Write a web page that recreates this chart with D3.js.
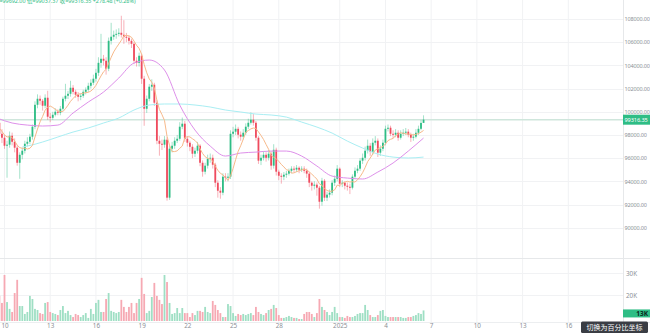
<!DOCTYPE html>
<html><head><meta charset="utf-8">
<script src="https://cdn.jsdelivr.net/npm/d3@7"></script>
<style>html,body{margin:0;padding:0;background:#fff;overflow:hidden}svg{display:block}</style>
</head><body><svg id="c" width="650" height="333"></svg>
<script>
// ---- data (4h candles) ----
const startTime = "2024-12-09T12:00:00Z";
const firstOpen = 99830;
const closes = [99050,98100,97760,97070,97160,97930,97410,96900,95600,96290,
96640,97240,97410,97850,98710,100600,101120,100950,100520,101210,
99570,99480,99740,100000,99910,100260,101120,101380,101550,102070,
101720,101470,101290,101380,101720,101900,102240,102500,102850,103360,
104220,104570,104400,103710,106120,106470,106640,106720,106810,106640,
106470,106380,106120,105860,104400,104220,104830,102850,100260,101120,
102160,102330,100780,97500,97240,97160,97590,92590,96810,97070,
97500,97670,98710,98970,97670,97330,96980,96380,96640,97070,
95600,94830,95350,95950,96030,95430,93880,93190,93020,94400,
94310,94400,98100,98280,98530,98020,97850,98190,98710,99050,
99310,99050,97760,95780,96030,96290,96030,96380,95350,96720,
94830,94480,94400,94570,94660,94910,95090,95010,95170,95000,
95090,94910,94660,93880,93620,93710,93450,92240,94050,92590,
92850,93020,93880,94220,95090,93790,93880,93620,93530,93450,
94400,94910,95090,95780,96030,96640,97070,96550,97330,97500,
96470,96810,97330,98530,98620,98100,98020,98190,97760,98100,
98190,98280,98020,97760,97850,98190,98530,99037.87,99316.35];
const highs = [100100,99300,98500,98000,97500,98300,98200,97700,97100,96500,
96900,97500,97800,98100,98900,100900,101500,101400,101100,101500,
101810,99900,100000,100300,100200,100500,101300,102410,101800,102670,
102300,101900,101700,101600,101900,102100,102500,102800,103200,103700,
104700,106720,104900,104700,106400,107670,107000,107100,107200,108280,
107900,106800,106600,106300,106000,104700,105100,105000,103100,101400,
102400,102800,102500,101000,97900,97600,97900,97800,97100,97400,
97800,98000,99100,99500,99200,97900,97500,97200,96900,97400,
97200,95800,95600,96300,96400,96300,95600,94100,93500,94700,
94700,94700,98400,98700,98900,98700,98300,98500,99000,99400,
99940,99800,99200,97900,96300,96600,96500,96700,96600,97200,
96900,95000,94700,94800,94900,95100,95300,95300,95400,95300,
95300,95300,95100,94800,94000,94000,93900,93600,94300,94200,
93100,93300,94100,94500,95400,95200,94100,94000,93900,93800,
94600,95200,95400,96000,96400,97000,97600,97300,97700,97900,
97700,97100,97600,98800,98900,98800,98400,98500,98400,98400,
98500,98600,98500,98200,98100,98500,98800,99300,99692];
const lows = [98900,97900,97300,96800,94310,96900,97100,96500,95350,94220,
95900,96400,97000,97200,97600,98500,100300,100600,100100,100300,
99300,99100,99300,99600,99700,99700,100100,100900,101100,101300,
101500,101200,100900,101000,101200,101500,101700,102000,102300,102600,
103100,103800,104000,103200,103500,105800,106200,106300,106500,106400,
105860,106000,105800,105500,104100,103900,103900,102400,98790,99900,
100900,101800,100500,97200,96210,96700,96900,92330,92400,96500,
96800,97300,97500,98500,97400,97000,96600,96000,96100,96400,
95300,94400,94600,95100,95600,95100,93500,92590,92500,92800,
94000,94000,94200,97800,98000,97700,97500,97600,98000,98500,
98900,98800,97500,95500,95400,95800,95700,95800,95000,95100,
94500,94100,93800,94100,94300,94500,94700,94800,94800,94700,
94800,94700,94300,93500,93200,93300,92760,91640,91900,92300,
92300,92600,92800,93600,94000,93500,93500,93300,93200,92900,
93300,94200,94700,94900,95500,95800,96400,96200,96300,97100,
96100,96200,96600,97100,98300,97900,97700,97800,97500,97600,
97900,98000,97800,97400,97500,97700,98000,98400,99037.37];
const volumes = [17300,19600,16400,29100,16800,13700,12300,20900,26900,15000,
15000,11400,12300,19600,18200,13700,13200,11800,11400,16400,
16800,12300,11800,11400,10900,13200,15000,11800,12800,10900,
10000,11400,10900,10000,10900,11800,9600,13700,11400,16400,
17800,12300,12300,18200,20900,12800,12300,11800,12300,17800,
14600,12300,14600,16400,11800,16400,18200,27800,20500,11800,
12800,19100,25500,19600,17800,15900,29100,25900,16400,11400,
11800,14100,11800,14100,11800,11800,10000,11800,10900,12800,
12800,12300,14600,12300,11800,17300,15500,13200,11800,10000,
10000,15900,15000,11800,10500,11400,10900,11400,10900,11400,
11800,10900,14600,12300,11400,10900,11800,13200,13700,15500,
14100,10900,9600,9600,10000,10500,10000,9600,9600,9100,
9100,11400,12300,12300,11400,10000,11800,18200,14600,13200,
12300,10900,12300,14600,11800,10000,10000,9600,10500,10000,
10000,10500,11400,11800,11800,15500,13200,10900,10000,10000,
10900,12800,13200,10500,10000,10000,10000,10000,10000,10000,
9600,9600,10000,10000,10500,10900,11800,11400,13000];
// slow MA (violet), one value per day, candle index 0,6,12,...
const maSlowIdx = [0,6,12,18,24,30,36,42,48,54,60,66,72,78,84,90,96,102,108,114,120,126,132,138,144,150,156,162,168];
const maSlow = [99460,99030,98850,98770,98850,99890,100840,101700,102910,104200,104460,103600,100580,98420,97040,96180,96440,96520,96610,96610,96180,95320,94450,94280,94200,94800,95580,96610,97730];
// long MA (light cyan)
const maLongIdx = [10,12,18,24,30,36,42,48,54,60,66,72,78,84,90,96,102,108,114,120,126,132,138,144,150,156,162,168];
const maLong = [96960,97040,97390,97820,98250,98600,99030,99460,100150,100580,100670,100670,100580,100410,100150,99980,99800,99720,99540,99110,98680,98160,97470,96870,96350,96090,96010,96090];
const priceTicks = [90000,92000,94000,96000,98000,100000,102000,104000,106000,108000];
const volTicks = [20000,30000];
const tickDates = ["2024-12-10","2024-12-13","2024-12-16","2024-12-19","2024-12-22","2024-12-25","2024-12-28","2025-01-01","2025-01-04","2025-01-07","2025-01-10","2025-01-13","2025-01-16"];
const tickLabels = ["10","13","16","19","22","25","28","2025","4","7","10","13","16"];
const legendText = "高=99692.00 低=99037.37 收=99316.35 +278.48 (+0.28%)";
const buttonText = "切换为百分比坐标";

// ---- layout ----
const plotR = 623, mainB = 258, volB = 322;
const UP = "#2ebd85", DN = "#ef4b5e";
const svg = d3.select("#c");
const font = "'Noto Sans','Noto Sans CJK SC',sans-serif";

const t0 = new Date(startTime).getTime(), H4 = 4*3600*1000;
const n = closes.length;
const opens = closes.map((c,i)=> i===0 ? firstOpen : closes[i-1]);
const data = d3.range(n).map(i=>({t:new Date(t0+i*H4), o:opens[i], c:closes[i], h:highs[i], l:lows[i], v:volumes[i]}));

const x = d3.scaleUtc().domain([new Date("2024-12-10T00:00:00Z"), new Date("2025-01-16T00:00:00Z")]).range([4.5, 568.3]);
const y = d3.scaleLinear().domain([90000,108000]).range([227.7,19]);
const yv = d3.scaleLinear().domain([8200,30000]).range([321,273]);

const defs = svg.append("defs");
defs.append("clipPath").attr("id","cm").append("rect").attr("x",0).attr("y",0).attr("width",plotR).attr("height",mainB);
defs.append("clipPath").attr("id","cv").append("rect").attr("x",0).attr("y",mainB).attr("width",plotR).attr("height",volB-mainB);

// grid
const grid = svg.append("g");
grid.selectAll(".vg").data(tickDates).join("line")
  .attr("x1",d=>x(new Date(d+"T00:00:00Z"))).attr("x2",d=>x(new Date(d+"T00:00:00Z")))
  .attr("y1",0).attr("y2",volB).attr("stroke","#f1f2f4").attr("stroke-width",1);
grid.selectAll(".hg").data(priceTicks).join("line")
  .attr("x1",0).attr("x2",plotR).attr("y1",d=>Math.round(y(d))+0.5).attr("y2",d=>Math.round(y(d))+0.5)
  .attr("stroke","#f1f2f4");
grid.selectAll(".vgv").data(volTicks).join("line")
  .attr("x1",0).attr("x2",plotR).attr("y1",d=>Math.round(yv(d))+0.5).attr("y2",d=>Math.round(yv(d))+0.5)
  .attr("stroke","#f1f2f4");
// separators
svg.append("line").attr("x1",0).attr("x2",650).attr("y1",mainB+0.5).attr("y2",mainB+0.5).attr("stroke","#e6e8ea");
svg.append("line").attr("x1",0).attr("x2",650).attr("y1",volB+0.5).attr("y2",volB+0.5).attr("stroke","#eceef0");
svg.append("line").attr("x1",plotR+0.5).attr("x2",plotR+0.5).attr("y1",0).attr("y2",volB).attr("stroke","#e6e8ea");

// current price line
const last = data[n-1];
svg.append("line").attr("x1",0).attr("x2",plotR).attr("y1",y(last.c)).attr("y2",y(last.c))
  .attr("stroke","#cfe6dc").attr("stroke-width",1.5);

// main pane
const gm = svg.append("g").attr("clip-path","url(#cm)");
const bw = 1.8;
gm.selectAll(".wk").data(data).join("line")
  .attr("x1",d=>x(d.t)).attr("x2",d=>x(d.t)).attr("y1",d=>y(d.h)).attr("y2",d=>y(d.l))
  .attr("stroke",d=>d.c>=d.o?UP:DN).attr("stroke-opacity",0.55).attr("stroke-width",0.8);
gm.selectAll(".bd").data(data).join("rect")
  .attr("x",d=>x(d.t)-bw/2).attr("width",bw)
  .attr("y",d=>y(Math.max(d.o,d.c))).attr("height",d=>Math.max(1,Math.abs(y(d.o)-y(d.c))))
  .attr("fill",d=>d.c>=d.o?UP:DN);

// moving averages
const maFast = data.map((d,i)=>{const s=data.slice(Math.max(0,i-6),i+1); return {t:d.t, v:d3.mean(s,e=>e.c)};});
const line = d3.line().x(d=>x(d.t)).y(d=>y(d.v));
gm.append("path").datum(maLongIdx.map((k,j)=>({t:data[k].t, v:maLong[j]})))
  .attr("d",line.curve(d3.curveMonotoneX)).attr("fill","none").attr("stroke","#a9eef3").attr("stroke-width",1);
gm.append("path").datum(maSlowIdx.map((k,j)=>({t:data[k].t, v:maSlow[j]})))
  .attr("d",line.curve(d3.curveMonotoneX)).attr("fill","none").attr("stroke","#de90ea").attr("stroke-width",1);
gm.append("path").datum(maFast)
  .attr("d",d3.line().x(d=>x(d.t)).y(d=>y(d.v))).attr("fill","none").attr("stroke","#f7b98a").attr("stroke-width",1);

// volume pane
const gv = svg.append("g").attr("clip-path","url(#cv)");
gv.selectAll("rect").data(data).join("rect")
  .attr("x",d=>x(d.t)-bw/2).attr("width",bw)
  .attr("y",d=>yv(d.v)).attr("height",d=>yv.range()[0]-yv(d.v))
  .attr("fill",d=>d.c>=d.o?"#9fdfc4":"#f6a9b3");

// axes
const axY = svg.append("g").attr("transform",`translate(${plotR},0)`)
  .call(d3.axisRight(y).tickValues(priceTicks).tickSize(0).tickPadding(1.5).tickFormat(d3.format(".2f")));
const axV = svg.append("g").attr("transform",`translate(${plotR},0)`)
  .call(d3.axisRight(yv).tickValues(volTicks).tickSize(0).tickPadding(3).tickFormat(d=>(d/1000)+"K"));
const axX = svg.append("g").attr("transform",`translate(0,${volB})`)
  .call(d3.axisBottom(x).tickValues(tickDates.map(d=>new Date(d+"T00:00:00Z"))).tickSize(0).tickPadding(2).tickFormat((d,i)=>tickLabels[i]));
[axY,axV,axX].forEach(a=>{a.select(".domain").remove(); a.selectAll("text").attr("fill","#8b8f96").style("font-family",font).style("font-size","6.3px");});
axY.selectAll("text").style("font-size","5.5px").style("letter-spacing","-0.15px");

// price tag
const py = y(last.c);
svg.append("rect").attr("x",plotR).attr("y",py-5).attr("width",650-plotR).attr("height",10).attr("fill",UP);
svg.append("text").attr("x",plotR+1.5).attr("y",py+2.1).text(d3.format(".2f")(last.c))
  .attr("fill","#fff").style("font-family",font).style("font-size","5.6px").style("letter-spacing","-0.1px");
// volume tag
const vy = yv(last.v)+3;
svg.append("rect").attr("x",plotR).attr("y",vy-4).attr("width",650-plotR).attr("height",8).attr("fill",UP);
svg.append("text").attr("x",648).attr("y",vy+2.3).attr("text-anchor","end").text(d3.format(".0f")(last.v/1000)+"K")
  .attr("fill","#0b2a1e").style("font-family",font).style("font-size","6.5px").style("font-weight","bold");

// legend (mostly cut at top, as in the reference)
svg.append("text").attr("x",-6).attr("y",3.2).text(legendText)
  .attr("fill",UP).style("font-family",font).style("font-size","5.4px");

// button
svg.append("rect").attr("x",581).attr("y",321.5).attr("width",67).attr("height",11.5).attr("rx",1.5).attr("fill","#3a3d44");
svg.append("text").attr("x",614.5).attr("y",330.1).attr("text-anchor","middle").text(buttonText)
  .attr("fill","#fff").style("font-family","'Noto Sans CJK SC',sans-serif").style("font-size","7px");
</script></body></html>
